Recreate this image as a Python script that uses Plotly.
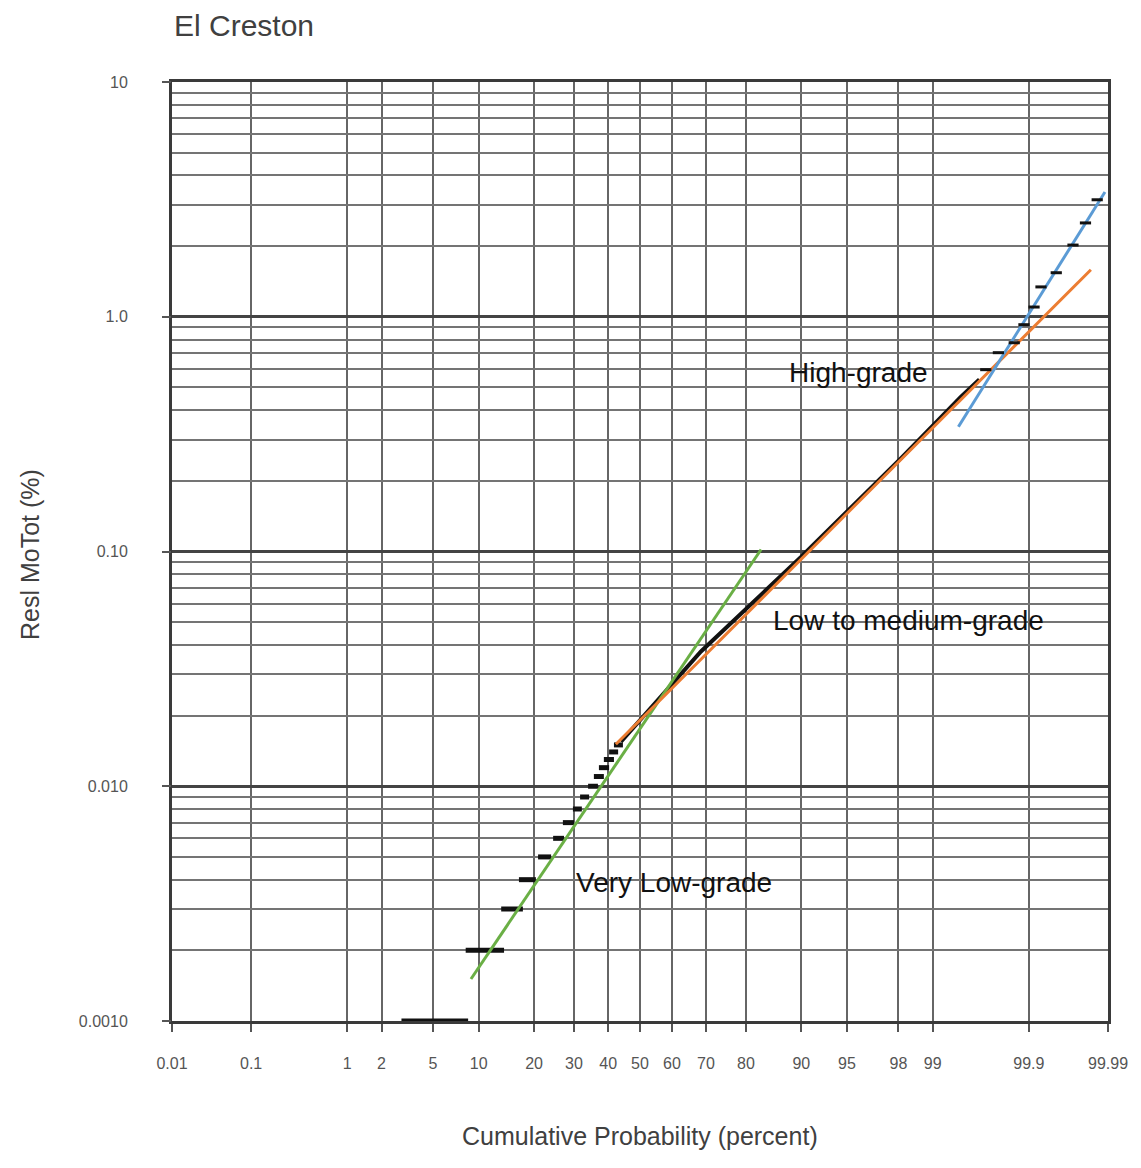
import math
import plotly.graph_objects as go
from statistics import NormalDist

nd = NormalDist()


def pz(p):
    """percent -> normal score (probability-paper coordinate)"""
    return nd.inv_cdf(p / 100.0)


# ---------------- data ----------------
prob_ticks = [0.01, 0.1, 1, 2, 5, 10, 20, 30, 40, 50, 60, 70, 80, 90, 95, 98, 99, 99.9, 99.99]
prob_labels = ["0.01", "0.1", "1", "2", "5", "10", "20", "30", "40", "50", "60", "70",
               "80", "90", "95", "98", "99", "99.9", "99.99"]
y_decades = [0.001, 0.01, 0.1, 1, 10]
y_labels = ["0.0010", "0.010", "0.10", "1.0", "10"]
y_minor = [m * 10 ** e for e in range(-3, 1) for m in range(2, 10)]

# clustered (rounded) low assays: value, percentile start, percentile end
cluster_values = [0.001, 0.002, 0.003, 0.004, 0.005, 0.006, 0.007, 0.008, 0.009,
                  0.010, 0.011, 0.012, 0.013, 0.014, 0.015]
cluster_p_start = [2.9, 8.3, 13.5, 16.8, 20.9, 24.5, 27.0, 29.7, 31.7,
                   34.0, 35.7, 37.2, 38.7, 40.3, 41.8]
cluster_p_end = [8.6, 14.0, 17.6, 20.4, 24.0, 27.3, 30.0, 32.2, 34.3,
                 36.9, 38.7, 40.3, 41.8, 43.1, 44.6]

# continuous middle part of the sample distribution
mid_p = [44.0, 68.6, 90.0, 98.1, 99.46, 99.65]
mid_v = [0.0155, 0.0375, 0.095, 0.25, 0.455, 0.54]

# high-grade tail samples
top_p = [99.70, 99.78, 99.853, 99.886, 99.913, 99.928, 99.953, 99.971, 99.980, 99.986]
top_v = [0.595, 0.703, 0.775, 0.925, 1.10, 1.34, 1.54, 2.02, 2.51, 3.15]

# fitted populations
green_p = [8.96, 83.2]
green_v = [0.00151, 0.102]
orange_p = [42.4, 99.983]
orange_v = [0.0151, 1.585]
blue_p = [99.43, 99.989]
blue_v = [0.340, 3.40]

labels_text = ["High-grade", "Low to medium-grade", "Very Low-grade"]
labels_p = [95.85, 98.34, 60.6]
labels_v = [0.578, 0.0508, 0.0039]

# ---------------- figure ----------------
FONT = "Liberation Sans, Arial, Helvetica, sans-serif"
fig = go.Figure()

seg_x, seg_y = [], []
for v, a, b in zip(cluster_values, cluster_p_start, cluster_p_end):
    seg_x += [pz(a), pz(b), None]
    seg_y += [v, v, None]
fig.add_trace(go.Scatter(x=seg_x, y=seg_y, mode="lines",
                         line=dict(color="#111111", width=5), showlegend=False))

fig.add_trace(go.Scatter(x=[pz(p) for p in mid_p], y=mid_v, mode="lines",
                         line=dict(color="#111111", width=4), showlegend=False))

fig.add_trace(go.Scatter(x=[pz(p) for p in green_p], y=green_v, mode="lines",
                         line=dict(color="#6aaf45", width=3), showlegend=False))
fig.add_trace(go.Scatter(x=[pz(p) for p in orange_p], y=orange_v, mode="lines",
                         line=dict(color="#ec7d32", width=3), showlegend=False))
fig.add_trace(go.Scatter(x=[pz(p) for p in blue_p], y=blue_v, mode="lines",
                         line=dict(color="#5b9bd5", width=3), showlegend=False))

fig.add_trace(go.Scatter(x=[pz(p) for p in top_p], y=top_v, mode="markers",
                         marker=dict(symbol="line-ew", size=8,
                                     line=dict(color="#111111", width=3)),
                         showlegend=False, yaxis="y2"))

xr = [pz(0.01), pz(99.99)]

fig.update_layout(
    width=1141, height=1168,
    margin=dict(l=172, r=33, t=82, b=147),
    paper_bgcolor="white", plot_bgcolor="white",
    font=dict(family=FONT, color="#444444"),
    xaxis=dict(
        range=xr, tickvals=[pz(p) for p in prob_ticks], ticktext=prob_labels,
        showgrid=True, gridcolor="#666666", gridwidth=2, zeroline=False,
        ticks="outside", ticklen=8, tickcolor="#555555", tickwidth=2,
        ticklabelstandoff=18,
        tickfont=dict(size=16, color="#555555", family=FONT),
        showline=True, linecolor="#3a3a3a", linewidth=3, mirror=True,
    ),
    yaxis=dict(
        type="log", range=[-3, 1], tickvals=y_minor, showticklabels=False,
        showgrid=True, gridcolor="#747474", gridwidth=2, zeroline=False,
        ticks="", showline=True, linecolor="#3a3a3a", linewidth=3, mirror=True,
    ),
    yaxis2=dict(
        type="log", range=[-3, 1], overlaying="y", side="left",
        tickvals=y_decades, ticktext=y_labels,
        showgrid=True, gridcolor="#444444", gridwidth=3, zeroline=False,
        ticks="outside", ticklen=9, tickcolor="#555555", tickwidth=2,
        ticklabelstandoff=31,
        tickfont=dict(size=16, color="#555555", family=FONT),
    ),
)

for t, p, v in zip(labels_text, labels_p, labels_v):
    fig.add_annotation(x=pz(p), y=math.log10(v), yref="y", xref="x", text=t,
                       showarrow=False,
                       font=dict(size=28, color="#111111", family=FONT),
                       xanchor="center", yanchor="middle")

# titles
fig.add_annotation(x=0, y=1.0607, xref="paper", yref="paper", text="El Creston",
                   showarrow=False, xanchor="left", yanchor="middle",
                   font=dict(size=30, color="#404040", family=FONT))
fig.add_annotation(x=0.5, y=-0.1225, xref="paper", yref="paper",
                   text="Cumulative Probability (percent)", showarrow=False,
                   xanchor="center", yanchor="middle",
                   font=dict(size=25, color="#404040", family=FONT))
fig.add_annotation(x=-0.1517, y=0.4963, xref="paper", yref="paper",
                   text="Resl MoTot (%)", showarrow=False, textangle=-90,
                   xanchor="center", yanchor="middle",
                   font=dict(size=25, color="#404040", family=FONT))

fig.write_html("out.html")
